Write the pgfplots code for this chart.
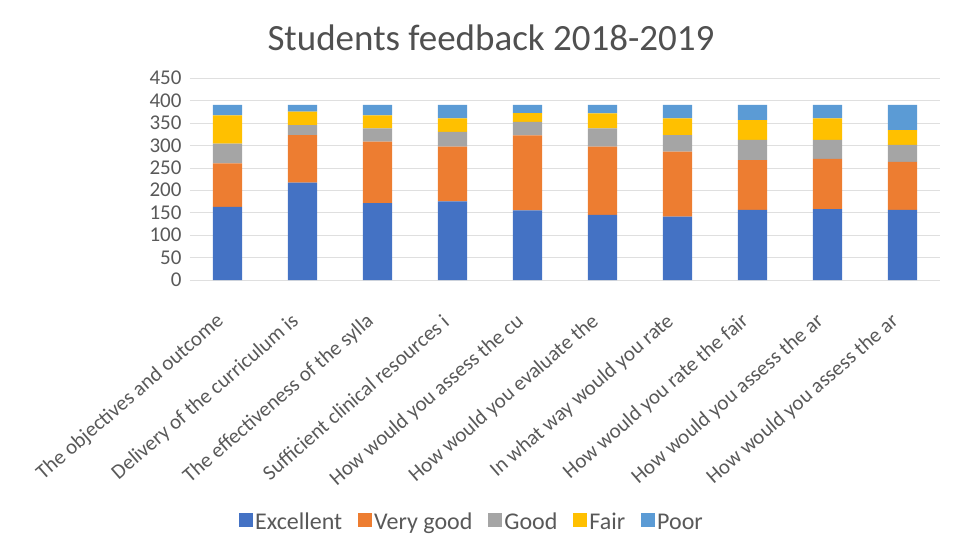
\documentclass[border=0pt]{standalone}
\usepackage{pgfplots}
\pgfplotsset{compat=1.18}
\usepackage{pgfplotstable}
\usepackage{fontspec}
\setmainfont{Carlito}

\definecolor{cExc}{HTML}{4472C4}
\definecolor{cVg}{HTML}{ED7D31}
\definecolor{cGood}{HTML}{A5A5A5}
\definecolor{cFair}{HTML}{FFC000}
\definecolor{cPoor}{HTML}{5B9BD5}
\definecolor{txt}{HTML}{595959}

\pgfplotstableread{
x exc vg good fair poor
0 163 97 44 63 23
1 217 106 22 30 15
2 171 137 30 29 23
3 175 122 33 30 30
4 155 167 30 20 18
5 145 152 41 33 19
6 141 145 37 37 30
7 156 111 45 44 34
8 158 112 42 48 30
9 156 107 38 33 56
}\feedback

\begin{document}
\begin{tikzpicture}
\useasboundingbox (-190pt,-272pt) rectangle (772pt,280pt);
\begin{axis}[
    scale only axis,
    width=750pt, height=202pt,
    ybar stacked,
    bar width=0.39,
    xmin=-0.5, xmax=9.5,
    ymin=0, ymax=450,
    ytick={0,50,...,450},
    xtick={0,...,9},
    xticklabels={The objectives and outcome,Delivery of the curriculum is,The effectiveness of the sylla,Sufficient clinical resources i,How would you assess the cu,How would you evaluate the,In what way would you rate,How would you rate the fair,How would you assess the ar,How would you assess the ar},
    axis line style={draw=none},
    major tick length=0pt,
    ymajorgrids=true,
    grid style={gray!25},
    /pgf/number format/assume math mode=true,
    tick label style={font=\fontsize{21}{25}\selectfont, text=txt},
    yticklabel style={xshift=-5pt},
    xticklabel style={rotate=41, anchor=east, xshift=-27pt, yshift=-25pt, font=\fontsize{21}{25}\selectfont},
    legend image code/.code={\fill[#1] (0pt,-5pt) rectangle (14pt,9pt);},
    legend style={at={(0.376,-1.2)}, anchor=center, legend columns=-1, draw=none,
        font=\fontsize{24}{28}\selectfont, text=txt,
        /tikz/every even column/.append style={column sep=14pt}},
]
\addplot[fill=cExc, draw=none] table[x=x, y=exc] {\feedback};
\addlegendentry{Excellent}
\addplot[fill=cVg, draw=none] table[x=x, y=vg] {\feedback};
\addlegendentry{Very good}
\addplot[fill=cGood, draw=none] table[x=x, y=good] {\feedback};
\addlegendentry{Good}
\addplot[fill=cFair, draw=none] table[x=x, y=fair] {\feedback};
\addlegendentry{Fair}
\addplot[fill=cPoor, draw=none] table[x=x, y=poor] {\feedback};
\addlegendentry{Poor}
\end{axis}
\node[font=\fontsize{37}{42}\selectfont, text=txt!90!black] at (301pt,242pt) {Students feedback 2018-2019};
\end{tikzpicture}
\end{document}
